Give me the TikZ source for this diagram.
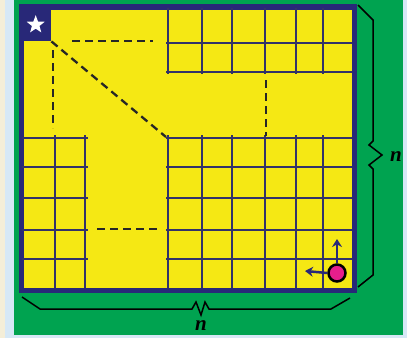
\documentclass[tikz,border=0pt]{standalone}
\usepackage{fontspec}
\setmainfont{Liberation Serif}
\usetikzlibrary{shapes.geometric,arrows.meta}
\definecolor{bggreen}{RGB}{0,163,80}
\definecolor{boardyellow}{RGB}{245,232,20}
\definecolor{navy}{RGB}{40,40,120}
\definecolor{gridnavy}{RGB}{50,50,105}
\definecolor{cream}{RGB}{244,238,216}
\definecolor{paleblue}{RGB}{214,232,246}
\definecolor{pink}{RGB}{230,30,140}
\tikzset{
  gridline/.style={draw=gridnavy,line width=2.3pt},
  dashline/.style={draw=black!85,line width=2.3pt,dash pattern=on 8pt off 5pt},
  braceline/.style={draw=black,line width=1.5pt,line join=miter},
  movearrow/.style={draw=navy,line width=2.5pt,-{Stealth[length=8pt,width=10pt]}},
  nlabel/.style={font=\fontsize{21}{21}\selectfont\bfseries\itshape,inner sep=0pt}
}
\begin{document}
\begin{tikzpicture}[x=1pt,y=-1pt]
\useasboundingbox (0,0) rectangle (407,338);
% background
\fill[paleblue] (0,0) rectangle (407,338);
\fill[cream] (0,0) rectangle (5,338);
\fill[bggreen] (14,0) rectangle (403,335);
% board
\node[draw=navy,line width=3.5pt,fill=boardyellow,minimum width=331pt,minimum height=282pt,inner sep=0pt,anchor=north west] (board) at (20.5,6) {};
% top-right grid
\foreach \x in {168,202,232,265,296,323} \draw[gridline] (\x,6) -- (\x,74);
\foreach \y in {43,72} \draw[gridline] (166,\y) -- (352,\y);
% lower-right grid
\foreach \x in {168,202,232,265,296,323} \draw[gridline] (\x,135) -- (\x,288);
\foreach \y in {138,167,198,230,259} \draw[gridline] (166,\y) -- (352,\y);
% lower-left grid
\foreach \x in {55,85} \draw[gridline] (\x,135) -- (\x,288);
\foreach \y in {138,167,198,230,259} \draw[gridline] (21,\y) -- (88,\y);
% board border redrawn on top
\draw[navy,line width=3.5pt] (board.north west) rectangle (board.south east);
% start square with star
\node[fill=navy,minimum width=31pt,minimum height=35pt,inner sep=0pt,anchor=north west] (start) at (20,6) {};
\node[star,star points=5,star point ratio=2.4,fill=white,minimum size=19pt,inner sep=0pt] (starsym) at ([yshift=-1pt]start.center) {};
% dashed lines
\coordinate (d1a) at (72,41); \coordinate (d1b) at (153,41);
\coordinate (d2a) at (53,50); \coordinate (d2b) at (53,128);
\coordinate (d3b) at (166,137);
\coordinate (d4a) at (266,80); \coordinate (d4b) at (266,136);
\coordinate (d5a) at (97,229); \coordinate (d5b) at (160,229);
\draw[dashline] (d1a) -- (d1b);
\draw[dashline] (d2a) -- (d2b);
\draw[dashline] (start.south east) -- (d3b);
\draw[dashline] (d4a) -- (d4b);
\draw[dashline] (d5a) -- (d5b);
% goal circle and arrows
\node[circle,draw=black,line width=2.5pt,fill=pink,minimum size=17pt,inner sep=0pt] (goal) at (337,273) {};
\coordinate (upend) at (337,239);
\coordinate (leftend) at (305,271);
\draw[movearrow] (goal.north) -- (upend);
\draw[movearrow] (goal.west) -- (leftend);
% right brace
\draw[braceline] (358,5) -- (373,20) -- (373,141) -- (369,145) -- (382,155) -- (369,165) -- (373,169) -- (373,275) -- (358,287);
\node[nlabel] (nright) at (396,157) {n};
% bottom brace
\draw[braceline] (22,297) -- (40,309) -- (192,309) -- (196,302) -- (201,315) -- (205,302) -- (209,309) -- (331,309) -- (350,298);
\node[nlabel] (nbottom) at (201,326) {n};
\end{tikzpicture}
\end{document}
